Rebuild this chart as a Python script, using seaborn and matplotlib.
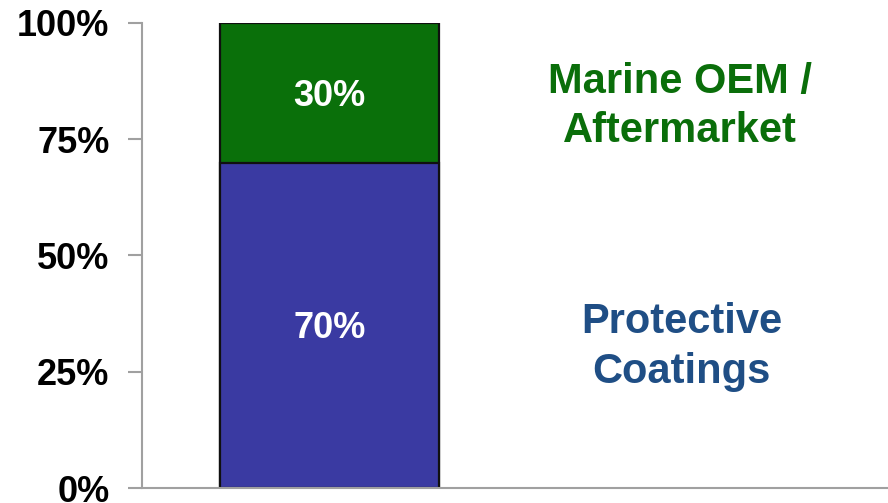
import matplotlib
matplotlib.use("Agg")
import matplotlib.pyplot as plt
import seaborn as sns
import pandas as pd

# Revenue mix by segment (share of total, %)
segments = ["Protective\nCoatings", "Marine OEM /\nAftermarket"]
shares = [70, 30]
seg_colors = ["#3a3aa2", "#0a700a"]
text_colors = ["#1f4e85", "#0a6e0a"]
tick_values = [0, 25, 50, 75, 100]
tick_labels = ["0%", "25%", "50%", "75%", "100%"]

sns.set_theme(style="white")
plt.rcParams["font.family"] = ["Liberation Sans", "DejaVu Sans"]

fig = plt.figure(figsize=(8.88, 5.03), dpi=100)
ax = fig.add_axes([142 / 888, 15 / 503, 746 / 888, 465 / 503])

# Stacked bar: draw cumulative totals back to front
cum = [sum(shares[: i + 1]) for i in range(len(shares))]
df = pd.DataFrame({"x": ["mix"] * len(shares), "total": cum, "seg": segments})
for i in reversed(range(len(shares))):
    sns.barplot(data=df.iloc[[i]], x="x", y="total", color=seg_colors[i],
                width=0.6, edgecolor="#101010", linewidth=1.6,
                saturation=1, ax=ax)

# Value labels inside each segment (nudged so the digits sit centred)
bottom = 0
for share in shares:
    ax.text(0, bottom + share / 2 - 0.7, f"{share}%", ha="center", va="center",
            color="white", fontsize=26, fontweight="bold")
    bottom += share

# Segment names to the right of the bar
ax.text(0.965, 30.4, segments[0], ha="center", va="center", color=text_colors[0],
        fontsize=30, fontweight="bold", linespacing=1.32)
ax.text(0.96, 82.0, segments[1], ha="center", va="center", color=text_colors[1],
        fontsize=30, fontweight="bold", linespacing=1.3)

ax.set_xlim(-0.5137, -0.5137 + 746 / 365)
ax.set_ylim(0, 100)
ax.set_yticks(tick_values)
ax.set_yticklabels(tick_labels, fontsize=26, fontweight="bold", color="black")
ax.set_xticks([])
ax.set_xlabel("")
ax.set_ylabel("")

for side in ["top", "right"]:
    ax.spines[side].set_visible(False)
for side in ["left", "bottom"]:
    ax.spines[side].set_color("#a0a0a0")
    ax.spines[side].set_linewidth(1.5)
ax.tick_params(axis="y", direction="out", length=10, width=1.5,
               color="#a0a0a0", pad=13.4, left=True)

fig.savefig("out.png", dpi=100, facecolor="white")
